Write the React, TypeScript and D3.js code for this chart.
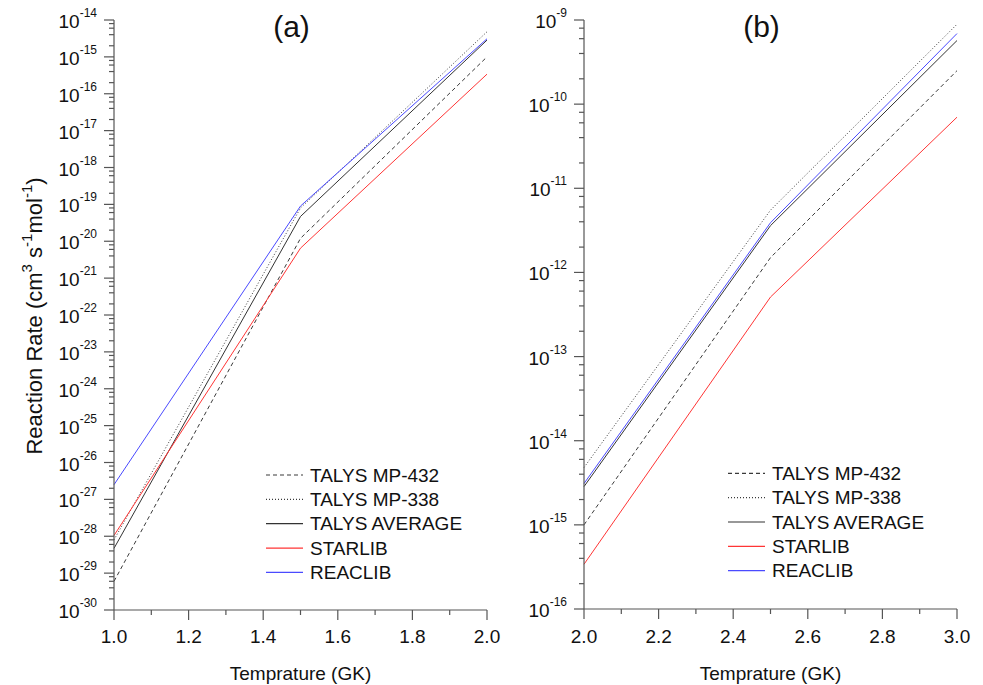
import React from "react";
import * as d3 from "d3";

// ---- data ----
const temperatures = [1.0, 1.5, 2.0, 2.5, 3.0];
const talysMP432 = [6e-30, 1.2e-20, 1.0e-15, 1.5e-12, 2.5e-10];
const talysMP338 = [8e-29, 8e-20, 4.8e-15, 5.5e-12, 8.9e-10];
const talysAverage = [4.7e-29, 4.7e-20, 2.85e-15, 3.6e-12, 5.7e-10];
const starlib = [1.05e-28, 6.5e-21, 3.4e-16, 5.1e-13, 7.0e-11];
const reaclib = [2.5e-27, 9e-20, 3.1e-15, 3.9e-12, 6.9e-10];

const seriesNames = ["TALYS MP-432", "TALYS MP-338", "TALYS AVERAGE", "STARLIB", "REACLIB"];
const seriesValues = [talysMP432, talysMP338, talysAverage, starlib, reaclib];

const panelLabels = ["(a)", "(b)"];
const panelXDomains: [number, number][] = [[1.0, 2.0], [2.0, 3.0]];
const panelYExponents: [number, number][] = [[-30, -14], [-16, -9]];
const xTitle = "Temprature (GK)";

// ---- styles ----
const seriesStyles = [
  { stroke: "#3a3a3a", dash: "4,3" },
  { stroke: "#3a3a3a", dash: "1,2" },
  { stroke: "#333333", dash: "" },
  { stroke: "#ff3535", dash: "" },
  { stroke: "#4a4aff", dash: "" },
];

const W = 983;
const H = 685;
const FONT = "'Liberation Sans', Arial, Helvetica, sans-serif";
const AXIS = "#555";

const panelLayouts = [
  { x0: 114, x1: 487, y0: 20, y1: 610, legX: 266, legY: 475 },
  { x0: 584, x1: 957, y0: 20, y1: 609, legX: 728, legY: 473.3 },
];

function Panel({ idx }: { idx: number }) {
  const L = panelLayouts[idx];
  const [e0, e1] = panelYExponents[idx];
  const x = d3.scaleLinear().domain(panelXDomains[idx]).range([L.x0, L.x1]);
  const y = d3.scaleLog().domain([Math.pow(10, e0), Math.pow(10, e1)]).range([L.y1, L.y0]);

  const majorX = x.ticks(5);
  const minorX = x.ticks(10).filter((t) => !majorX.some((m) => Math.abs(m - t) < 1e-9));

  const majorY: number[] = [];
  const minorY: number[] = [];
  for (let e = e0; e <= e1; e++) {
    majorY.push(e);
    if (e < e1) [2, 4, 6, 8].forEach((k) => minorY.push(k * Math.pow(10, e)));
  }

  const [dx0, dx1] = panelXDomains[idx];
  const line = d3
    .line<[number, number]>()
    .x((d) => x(d[0]))
    .y((d) => y(d[1]));

  return (
    <g>
      {seriesValues.map((vals, i) => {
        const pts: [number, number][] = temperatures
          .map((t, j) => [t, vals[j]] as [number, number])
          .filter((p) => p[0] >= dx0 - 1e-9 && p[0] <= dx1 + 1e-9);
        return (
          <path
            key={i}
            d={line(pts) || ""}
            fill="none"
            stroke={seriesStyles[i].stroke}
            strokeWidth={1}
            strokeDasharray={seriesStyles[i].dash || undefined}
          />
        );
      })}

      <line x1={L.x0} x2={L.x0} y1={L.y0} y2={L.y1} stroke={AXIS} strokeWidth={1.2} />
      <line x1={L.x0} x2={L.x1} y1={L.y1} y2={L.y1} stroke={AXIS} strokeWidth={1.2} />

      {majorX.map((t) => (
        <g key={"mx" + t}>
          <line x1={x(t)} x2={x(t)} y1={L.y1} y2={L.y1 + 10} stroke={AXIS} strokeWidth={1.2} />
          <text x={x(t)} y={643} textAnchor="middle" fontSize={19} fontFamily={FONT} fill="#111">
            {t.toFixed(1)}
          </text>
        </g>
      ))}
      {minorX.map((t) => (
        <line key={"nx" + t} x1={x(t)} x2={x(t)} y1={L.y1} y2={L.y1 + 5} stroke={AXIS} strokeWidth={1.2} />
      ))}

      {majorY.map((e) => {
        const yy = y(Math.pow(10, e));
        return (
          <g key={"my" + e}>
            <line x1={L.x0 - 10} x2={L.x0} y1={yy} y2={yy} stroke={AXIS} strokeWidth={1.2} />
            <text x={L.x0 - 17} y={yy + 8} textAnchor="end" fontSize={19} fontFamily={FONT} fill="#111">
              10
              <tspan fontSize={12} dy={-11}>
                {String(e)}
              </tspan>
            </text>
          </g>
        );
      })}
      {minorY.map((v, k) => (
        <line key={"ny" + k} x1={L.x0 - 5} x2={L.x0} y1={y(v)} y2={y(v)} stroke={AXIS} strokeWidth={1.2} />
      ))}

      <text x={(L.x0 + L.x1) / 2 - 9} y={37} textAnchor="middle" fontSize={30} fontFamily={FONT} fill="#111">
        {panelLabels[idx]}
      </text>

      <text x={(L.x0 + L.x1) / 2} y={680} textAnchor="middle" fontSize={19} fontFamily={FONT} fill="#111">
        {xTitle}
      </text>

      {seriesNames.map((name, i) => {
        const ly = L.legY + i * 24.35;
        return (
          <g key={"lg" + i}>
            <line
              x1={L.legX}
              x2={L.legX + 37}
              y1={ly}
              y2={ly}
              stroke={seriesStyles[i].stroke}
              strokeWidth={1.2}
              strokeDasharray={seriesStyles[i].dash || undefined}
            />
            <text x={L.legX + 44} y={ly + 6.5} fontSize={19} fontFamily={FONT} fill="#111">
              {name}
            </text>
          </g>
        );
      })}
    </g>
  );
}

export default function App() {
  return (
    <svg
      width={W}
      height={H}
      viewBox={`0 0 ${W} ${H}`}
      style={{ position: "absolute", left: 0, top: 0, background: "#fff" }}
    >
      <rect width={W} height={H} fill="#fff" />
      <Panel idx={0} />
      <Panel idx={1} />
      <text
        transform="translate(42,316) rotate(-90)"
        textAnchor="middle"
        fontSize={22}
        fontFamily={FONT}
        fill="#111"
      >
        Reaction Rate (cm
        <tspan fontSize={15} dy={-10}>3</tspan>
        <tspan dy={10}> s</tspan>
        <tspan fontSize={15} dy={-10}>-1</tspan>
        <tspan dy={10}>mol</tspan>
        <tspan fontSize={15} dy={-10}>-1</tspan>
        <tspan dy={10}>)</tspan>
      </text>
    </svg>
  );
}
